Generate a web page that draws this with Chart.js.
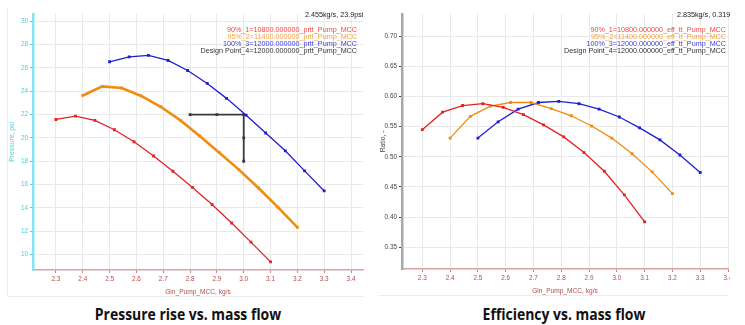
<!DOCTYPE html>
<html>
<head>
<meta charset="utf-8">
<script src="https://cdn.jsdelivr.net/npm/chart.js@4.4.0/dist/chart.umd.min.js"></script>
<style>
  body { margin: 0; width: 745px; height: 325px; background: #fff; position: relative; overflow: hidden; }
  .panel { position: absolute; overflow: hidden; }
  #panelPressure { left: 8px; top: 8px; width: 356px; height: 288px; }
  #panelEfficiency { left: 379px; top: 8px; width: 351px; height: 287px; }
  .frame { position: absolute; background: #ebebeb; }
  .caption { position: absolute; top: 303px; font-family: "Open Sans", sans-serif; font-weight: bold; font-size: 15.5px; color: #111; white-space: nowrap; transform: translateX(-50%) scaleX(0.9); }
</style>
</head>
<body>
<div class="frame" style="left:7px;top:8px;width:1px;height:289px"></div>
<div class="frame" style="left:7px;top:296px;width:357px;height:1px"></div>
<div class="frame" style="left:379px;top:295px;width:350px;height:1px"></div>
<div class="panel" id="panelPressure"><canvas id="chartPressure" width="370" height="288"></canvas></div>
<div class="panel" id="panelEfficiency"><canvas id="chartEfficiency" width="366" height="287"></canvas></div>
<div class="caption" style="left:188px">Pressure rise vs. mass flow</div>
<div class="caption" style="left:564px">Efficiency vs. mass flow</div>
<script>
(function () {
    'use strict';

    // speed lines, Gin_Pump_MCC in kg/s
    var flow90 = [2.3, 2.373, 2.445, 2.518, 2.591, 2.664, 2.736, 2.809, 2.882, 2.955, 3.027, 3.1];
    var flow95 = [2.4, 2.473, 2.545, 2.618, 2.691, 2.764, 2.836, 2.909, 2.982, 3.055, 3.127, 3.2];
    var flow100 = [2.5, 2.573, 2.645, 2.718, 2.791, 2.864, 2.936, 3.009, 3.082, 3.155, 3.227, 3.3];

    // pressure rise, psi
    var prtt90 = [21.58, 21.87, 21.5, 20.7, 19.67, 18.45, 17.14, 15.75, 14.28, 12.7, 11.06, 9.37];
    var prtt95 = [23.64, 24.42, 24.28, 23.6, 22.67, 21.5, 20.17, 18.73, 17.28, 15.7, 14.06, 12.33];
    var prtt100 = [26.53, 26.95, 27.08, 26.64, 25.78, 24.67, 23.39, 21.95, 20.42, 18.89, 17.17, 15.45];

    // design point marker
    var designFlow = [2.8, 2.9, 3.0, 3.0, 3.0];
    var designPrtt = [22, 22, 22, 20, 18];

    // total-to-total efficiency
    var eff90 = [0.545, 0.574, 0.585, 0.588, 0.582, 0.570, 0.553, 0.533, 0.507, 0.476, 0.437, 0.392];
    var eff95 = [0.531, 0.567, 0.584, 0.590, 0.590, 0.580, 0.568, 0.551, 0.531, 0.505, 0.475, 0.439];
    var eff100 = [0.531, 0.558, 0.579, 0.590, 0.592, 0.588, 0.579, 0.566, 0.548, 0.528, 0.503, 0.474];

    var prttLabels = [
        '90%_1=10800.000000_prtt_Pump_MCC',
        '95%_2=11400.000000_prtt_Pump_MCC',
        '100%_3=12000.000000_prtt_Pump_MCC',
        'Design Point_4=12000.000000_prtt_Pump_MCC'
    ];
    var effLabels = [
        '90%_1=10800.000000_eff_tt_Pump_MCC',
        '95%_2=11400.000000_eff_tt_Pump_MCC',
        '100%_3=12000.000000_eff_tt_Pump_MCC',
        'Design Point_4=12000.000000_eff_tt_Pump_MCC'
    ];

    var RED = '#e02424', ORANGE = '#f08c10', BLUE = '#1f1fd0', DARK = '#3a3a3a';
    var legendColors = ['#ee4848', '#f6a040', '#3c3ce0', '#333333'];
    var FONT = '"Liberation Sans", Arial, sans-serif';

    function points(xs, ys) {
        return xs.map(function (x, i) { return { x: x, y: ys[i] }; });
    }

    function series(label, xs, ys, color, width) {
        return {
            label: label,
            data: points(xs, ys),
            borderColor: color,
            backgroundColor: color,
            borderWidth: width,
            showLine: true,
            tension: 0,
            pointStyle: 'rect',
            pointRadius: 2,
            pointHoverRadius: 2,
            pointBorderWidth: 0
        };
    }

    // legend lines and cursor readout written into the plot corner
    var cornerText = {
        id: 'cornerText',
        afterDraw: function (chart, args, opts) {
            var ctx = chart.ctx;
            ctx.save();
            ctx.font = '7.2px ' + FONT;
            ctx.textBaseline = 'middle';
            ctx.fillStyle = '#222';
            ctx.textAlign = 'left';
            ctx.fillText(opts.readout, opts.readoutX, 7);
            ctx.textAlign = 'right';
            opts.lines.forEach(function (txt, i) {
                ctx.fillStyle = legendColors[i];
                ctx.fillText(txt, opts.legendRight, 22 + i * 7.1);
            });
            ctx.restore();
        }
    };

    function baseOptions(cfg) {
        return {
            responsive: false,
            animation: false,
            events: [],
            layout: { padding: { top: 0, left: 0, right: cfg.padRight, bottom: 0 } },
            plugins: {
                legend: { display: false },
                tooltip: { enabled: false },
                cornerText: cfg.corner
            },
            scales: {
                x: {
                    type: 'linear',
                    min: cfg.xMin,
                    max: cfg.xMax,
                    afterFit: function (s) { s.height = cfg.xHeight; },
                    border: { color: '#d9a4a4', width: 1.5 },
                    grid: { color: '#e9e9e9', tickColor: '#c88080', tickLength: 3 },
                    ticks: {
                        stepSize: 0.1,
                        includeBounds: false,
                        padding: 2,
                        color: '#b24c4c',
                        font: { family: FONT, size: 6.4 },
                        maxRotation: 0,
                        callback: function (v) { return Number(v).toFixed(1); }
                    },
                    title: {
                        display: true,
                        text: 'Gin_Pump_MCC, kg/s',
                        color: '#b24c4c',
                        padding: 0,
                        font: { family: FONT, size: 6.6 }
                    }
                },
                y: {
                    type: 'linear',
                    min: cfg.yMin,
                    max: cfg.yMax,
                    afterFit: function (s) { s.width = cfg.yWidth; },
                    border: { color: cfg.yAxisColor, width: 2.5 },
                    grid: { color: '#e9e9e9', tickColor: cfg.yTickColor, tickLength: 3 },
                    ticks: {
                        stepSize: cfg.yStep,
                        includeBounds: false,
                        padding: 2,
                        color: cfg.yTickColor,
                        font: { family: FONT, size: 6.4 },
                        callback: cfg.yFormat
                    },
                    title: {
                        display: true,
                        text: cfg.yTitle,
                        color: cfg.yTickColor,
                        padding: 0,
                        font: { family: FONT, size: 6.8 }
                    }
                }
            }
        };
    }

    new Chart(document.getElementById('chartPressure'), {
        type: 'scatter',
        data: {
            datasets: [
                series(prttLabels[0], flow90, prtt90, RED, 1.3),
                series(prttLabels[1], flow95, prtt95, ORANGE, 2.6),
                series(prttLabels[2], flow100, prtt100, BLUE, 1.3),
                series(prttLabels[3], designFlow, designPrtt, DARK, 1.8)
            ]
        },
        options: baseOptions({
            padRight: 15,
            xMin: 2.2145, xMax: 3.4446, xHeight: 26,
            yMin: 8.67, yMax: 30.64, yWidth: 25, yStep: 2,
            yAxisColor: '#86e4ea', yTickColor: '#4ccfd8',
            yTitle: 'Pressure, psi',
            yFormat: function (v) { return String(Math.round(v)); },
            corner: { readout: '2.455kg/s, 23.9psi', readoutX: 297, legendRight: 349, lines: prttLabels }
        }),
        plugins: [cornerText]
    });

    new Chart(document.getElementById('chartEfficiency'), {
        type: 'scatter',
        data: {
            datasets: [
                series(effLabels[0], flow90, eff90, RED, 1.3),
                series(effLabels[1], flow95, eff95, ORANGE, 1.3),
                series(effLabels[2], flow100, eff100, BLUE, 1.3)
            ]
        },
        options: baseOptions({
            padRight: 17,
            xMin: 2.227, xMax: 3.4, xHeight: 26,
            yMin: 0.314, yMax: 0.737, yWidth: 23, yStep: 0.05,
            yAxisColor: '#a8a8a8', yTickColor: '#444444',
            yTitle: 'Ratio, -',
            yFormat: function (v) { return Number(v).toFixed(2); },
            corner: { readout: '2.835kg/s, 0.319-', readoutX: 298, legendRight: 347, lines: effLabels }
        }),
        plugins: [cornerText]
    });
})();
</script>
</body>
</html>
